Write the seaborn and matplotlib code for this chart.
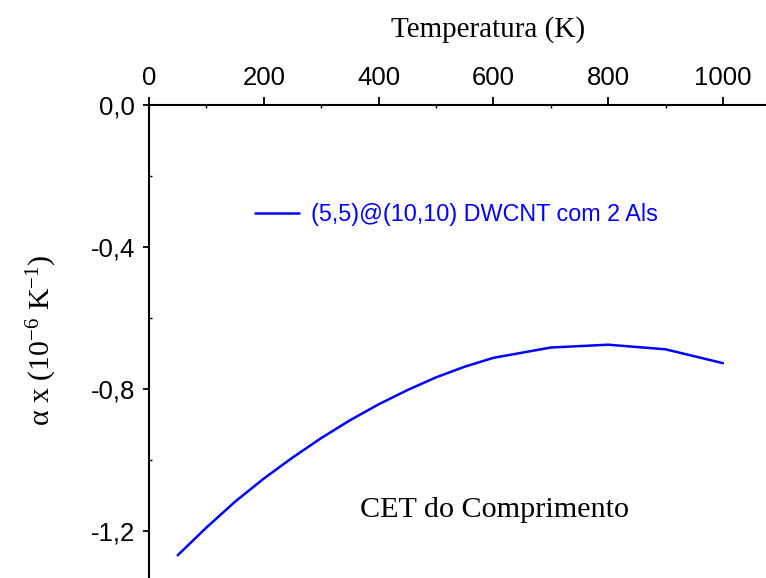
import matplotlib
matplotlib.use("Agg")
import matplotlib.pyplot as plt
import seaborn as sns
import pandas as pd
from matplotlib.ticker import FuncFormatter, MultipleLocator

temperature = [50, 100, 150, 200, 250, 300, 350, 400, 450, 500, 550, 600, 700, 800, 900, 1000]
alpha_x = [-1.268, -1.19, -1.117, -1.052, -0.993, -0.938, -0.888, -0.843, -0.803,
           -0.767, -0.737, -0.712, -0.683, -0.675, -0.688, -0.727]
series_label = "(5,5)@(10,10) DWCNT com 2 Als"
x_ticks = [0, 200, 400, 600, 800, 1000]
y_ticks = [0.0, -0.4, -0.8, -1.2]

sns.set_style("ticks")
plt.rcParams["font.family"] = ["Liberation Sans", "DejaVu Sans"]
plt.rcParams["mathtext.fontset"] = "custom"
plt.rcParams["mathtext.rm"] = "Liberation Serif"
plt.rcParams["mathtext.it"] = "Liberation Serif:italic"
plt.rcParams["text.color"] = "black"
plt.rcParams["xtick.color"] = "black"
plt.rcParams["ytick.color"] = "black"
plt.rcParams["xtick.labelcolor"] = "black"
plt.rcParams["ytick.labelcolor"] = "black"

W, H = 766, 578
fig = plt.figure(figsize=(W / 100, H / 100), dpi=100)
ax = fig.add_axes([149 / W, 0, (W - 149) / W, (H - 105) / H])

df = pd.DataFrame({"T": temperature, "a": alpha_x})
sns.lineplot(data=df, x="T", y="a", ax=ax, color="#0000FF", linewidth=1.8,
             label=series_label)

ax.set_xlim(0, 1075)
ax.set_ylim(-1.332, 0)
ax.xaxis.tick_top()
ax.set_xticks(x_ticks)
ax.set_yticks(y_ticks)
ax.xaxis.set_minor_locator(MultipleLocator(100))
ax.yaxis.set_minor_locator(MultipleLocator(0.2))
ax.yaxis.set_major_formatter(FuncFormatter(lambda v, p: f"{v:.1f}".replace(".", ",").replace("-0,0", "0,0")))
ax.xaxis.set_major_formatter(FuncFormatter(lambda v, p: f"{int(round(v))}"))
ax.tick_params(axis="both", which="major", labelsize=18.5, width=1.3, color="black",
               labelcolor="black", direction="out")
ax.tick_params(axis="x", which="major", length=6, pad=5)
ax.tick_params(axis="y", which="major", length=4.5, pad=5.5)
ax.tick_params(axis="both", which="minor", length=2.5, width=1.0, direction="in")
ax.set_xlabel("")
ax.set_ylabel("")
for side in ["right", "bottom"]:
    ax.spines[side].set_visible(False)
for side in ["left", "top"]:
    ax.spines[side].set_linewidth(1.5)
    ax.spines[side].set_color("black")

leg = ax.legend(loc="center left",
                bbox_to_anchor=((255 - 149) / (W - 149), 1 - (215 - 105) / (H - 105)),
                frameon=False, fontsize=16.8, labelcolor="#0000FF",
                handlelength=1.9, handletextpad=0.5, borderpad=0, borderaxespad=0)

fig.text(488 / W, 1 - 30 / H, "Temperatura (K)", ha="center", va="center",
         fontsize=21, family="Liberation Serif", color="black")
fig.text(42 / W, 1 - 340 / H, r"α x (10$^{\mathrm{-6}}$ K$^{\mathrm{-1}}$)", ha="center",
         va="center", rotation=90, fontsize=21.5, family="Liberation Serif", color="black")
fig.text(495 / W, 1 - 510 / H, "CET do Comprimento", ha="center", va="center",
         fontsize=21.7, family="Liberation Serif", color="black")

fig.savefig("out.png", dpi=100)
